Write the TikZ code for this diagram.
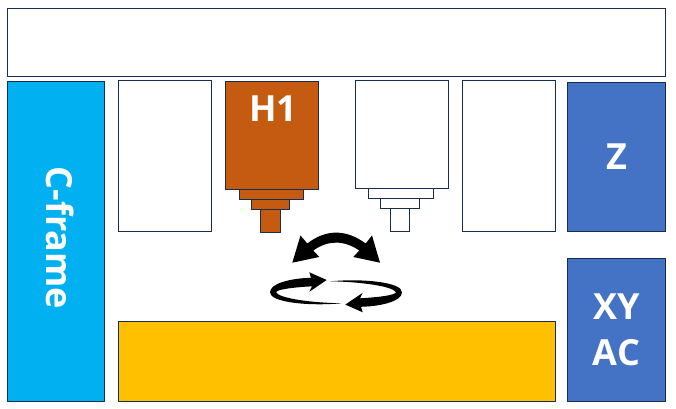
\documentclass[tikz,border=0pt]{standalone}
\usepackage{fontspec}
\setmainfont{Open Sans}
\usetikzlibrary{positioning}
\definecolor{edgeblue}{HTML}{172C51}
\definecolor{frameblue}{HTML}{00B0F0}
\definecolor{headorange}{HTML}{C55A11}
\definecolor{axisblue}{HTML}{4472C4}
\definecolor{tableyellow}{HTML}{FFC000}
\tikzset{
    boxnode/.style = {draw=edgeblue, rectangle, line width=0.75pt, inner sep=0em, outer sep=0em, 
      text=white, font=\bfseries\fontsize{27}{34.5}\selectfont, align=center},
    whitebox/.style = {boxnode, fill=white},
    orangebox/.style = {boxnode, fill=headorange},
    bluebox/.style = {boxnode, fill=axisblue},
    labelnode/.style = {text=white, font=\bfseries\fontsize{27}{34}\selectfont},
    bendarrow/.style = {fill=black, draw=none}
}
% half of the turning ring, centred on (0,0)
\newcommand{\halfring}{
  (-9.3,-12.3) -- (-26.7,-0.5) -- (-24,-6) .. controls (-42,-5) and (-59,-3) .. (-60,0)
  .. controls (-57,6) and (-25,10.5) .. (5.7,11)
  .. controls (-28,14) and (-66,10) .. (-66,0)
  .. controls (-66,-9) and (-45,-14) .. (-25,-14.5) -- (-26.7,-20) -- cycle
}
\begin{document}
\begin{tikzpicture}[x=0.75pt, y=-0.75pt]
\useasboundingbox (0,0) rectangle (676,409);
\node [whitebox, name=Top, minimum width=493.5pt, minimum height=50.9pt] at (336.5,42.4) {};
\node [boxnode, name=Cframe, fill=frameblue, minimum width=72.75pt, minimum height=240pt] at (56,241.5) {};
\node [labelnode, rotate=-90, name=Clabel, font=\bfseries\fontsize{27}{34}\selectfont] at (60,238) {C-frame};
\node [whitebox, name=BoxA, minimum width=69.75pt, minimum height=113.25pt] at (165,156) {};
\node [whitebox, name=BoxD, minimum width=69.75pt, minimum height=113.25pt] at (509,156) {};

% H1 head and its steps
\node [orangebox, name=H1, minimum width=69.75pt, minimum height=81pt] at (272,135.5) {};
\node [labelnode, name=H1label] at (273.5,109) {H1};
\node [orangebox, name=H1a, below=0pt of H1, xshift=-0.4pt, minimum width=48pt, minimum height=7.5pt] {};
\node [orangebox, name=H1b, below=0pt of H1a, xshift=-0.4pt, minimum width=28.5pt, minimum height=7.5pt] {};
\node [orangebox, name=H1c, below=0pt of H1b, minimum width=15pt, minimum height=17.25pt] {};

% white head
\node [whitebox, name=H2, minimum width=69.75pt, minimum height=81pt] at (402,135) {};
\node [whitebox, name=H2a, below=0pt of H2, xshift=-0.75pt, minimum width=48.75pt, minimum height=7.5pt] {};
\node [whitebox, name=H2b, below=0pt of H2a, xshift=-0.75pt, minimum width=28.9pt, minimum height=7.1pt] {};
\node [whitebox, name=H2c, below=0pt of H2b, minimum width=14.25pt, minimum height=17.25pt] {};

\node [bluebox, name=Zaxis, minimum width=73.5pt, minimum height=111.75pt] at (616.5,157) {Z};
\node [bluebox, name=XYAC, minimum width=73.5pt, minimum height=107.25pt] at (616.5,330) {XY\\AC};
\node [boxnode, name=Table, fill=tableyellow, minimum width=327.75pt, minimum height=60pt] at (337,361.5) {};

% swing arrow
\fill [bendarrow] (292.3,262.7) -- (300.5,235.5) -- (307.3,243.5) .. controls (326,229) and (346,229) .. (365.7,243.5)
  -- (372,235.5) -- (380,262.7) -- (353.3,257) -- (359.3,250.5) .. controls (344,240) and (328,240) .. (313.3,250.5)
  -- (319.3,257) -- cycle;
% turning arrows
\fill [bendarrow, shift={(336,292.3)}] \halfring;
\fill [bendarrow, shift={(336,292.3)}, rotate=180] \halfring;
\end{tikzpicture}
\end{document}
